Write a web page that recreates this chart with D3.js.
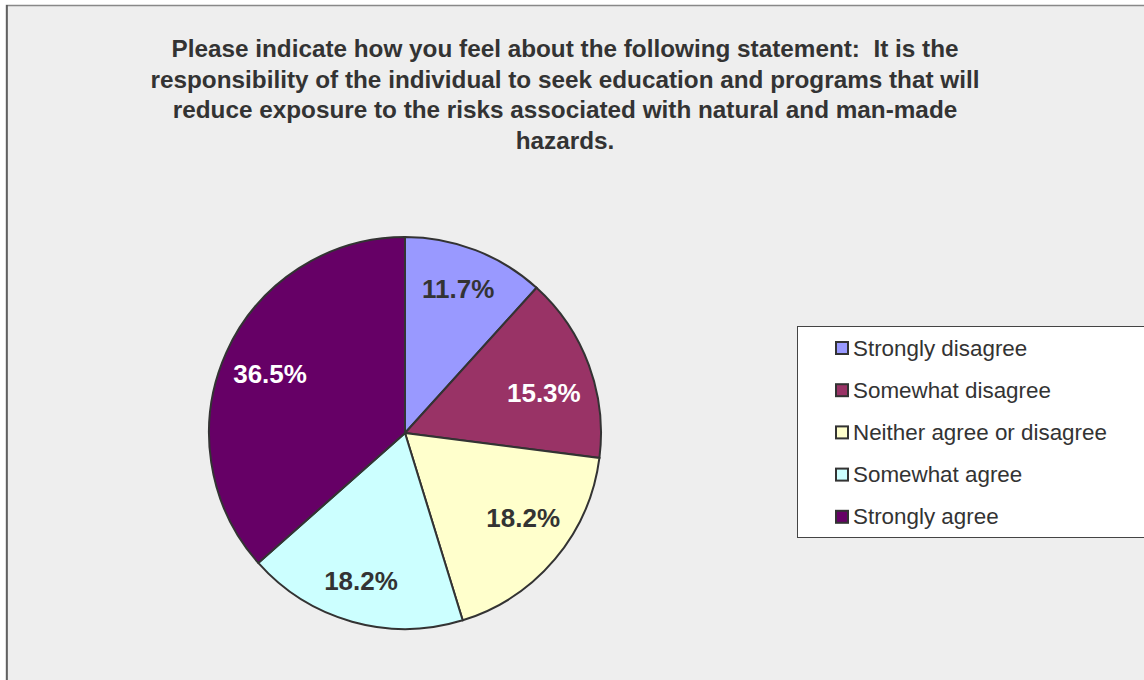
<!DOCTYPE html>
<html><head><meta charset="utf-8">
<script src="https://cdn.jsdelivr.net/npm/d3@7"></script>
<style>body{margin:0;background:#fff;}svg{display:block;}</style>
</head><body>
<svg id="chart" width="1144" height="680"></svg>
<script>
const categories = ["Strongly disagree","Somewhat disagree","Neither agree or disagree","Somewhat agree","Strongly agree"];
const values = [11.7, 15.3, 18.2, 18.2, 36.5];
const colors = ["#9999FF","#993366","#FFFFCC","#CCFFFF","#660066"];
const labelColors = ["#333333","#ffffff","#333333","#333333","#ffffff"];
const titleLines = [
  "Please indicate how you feel about the following statement:  It is the",
  "responsibility of the individual to seek education and programs that will",
  "reduce exposure to the risks associated with natural and man-made",
  "hazards."
];
// small label position adjustments (px) to mimic the original best-fit placement
const labelNudge = [[0,-6],[0,11],[5,-10],[-4,6],[0,2]];

const svg = d3.select("#chart");
const font = "'Liberation Sans', Arial, sans-serif";

// frame
svg.append("rect").attr("x",6.5).attr("y",5.5).attr("width",1200).attr("height",700)
  .attr("fill","#eeeeee").attr("stroke","#888").attr("stroke-width",1.5);
svg.append("line").attr("x1",7).attr("x2",7).attr("y1",5).attr("y2",680).attr("stroke","#555").attr("stroke-width",1.5);

// title
svg.append("text").attr("x",565).attr("y",57)
  .attr("text-anchor","middle").attr("font-family",font).attr("font-weight","bold")
  .attr("font-size",24.3).attr("fill","#333").attr("xml:space","preserve")
  .style("white-space","pre")
  .selectAll("tspan").data(titleLines).join("tspan")
  .attr("x",565).attr("dy",(d,i)=>i===0?0:30.5).text(d=>d);

// pie
const cx = 405, cy = 433, r = 196;
const pie = d3.pie().sort(null).value(d=>d)(values);
const arc = d3.arc().innerRadius(0).outerRadius(r);
const labelArc = d3.arc().innerRadius(148).outerRadius(148);
const g = svg.append("g").attr("transform",`translate(${cx},${cy})`);
g.selectAll("path").data(pie).join("path")
  .attr("d",arc).attr("fill",(d,i)=>colors[i]).attr("stroke","#333").attr("stroke-width",2);
g.selectAll("text").data(pie).join("text")
  .attr("transform",(d,i)=>{const c=labelArc.centroid(d);return `translate(${c[0]+labelNudge[i][0]},${c[1]+labelNudge[i][1]})`;})
  .attr("text-anchor","middle").attr("dominant-baseline","central")
  .attr("font-family",font).attr("font-weight","bold").attr("font-size",26)
  .attr("fill",(d,i)=>labelColors[i])
  .text((d,i)=>values[i].toFixed(1)+"%");

// legend
svg.append("rect").attr("x",797.5).attr("y",326.5).attr("width",400).attr("height",211)
  .attr("fill","#fff").attr("stroke","#444").attr("stroke-width",1);
const leg = svg.append("g");
const items = leg.selectAll("g").data(categories).join("g")
  .attr("transform",(d,i)=>`translate(836,${348 + i*42.2})`);
items.append("rect").attr("x",0).attr("y",-6).attr("width",12).attr("height",12)
  .attr("fill",(d,i)=>colors[i]).attr("stroke","#333").attr("stroke-width",2);
items.append("text").attr("x",17).attr("y",0).attr("dominant-baseline","central")
  .attr("font-family",font).attr("font-size",22.4).attr("fill","#333").text(d=>d);
</script>
</body></html>
